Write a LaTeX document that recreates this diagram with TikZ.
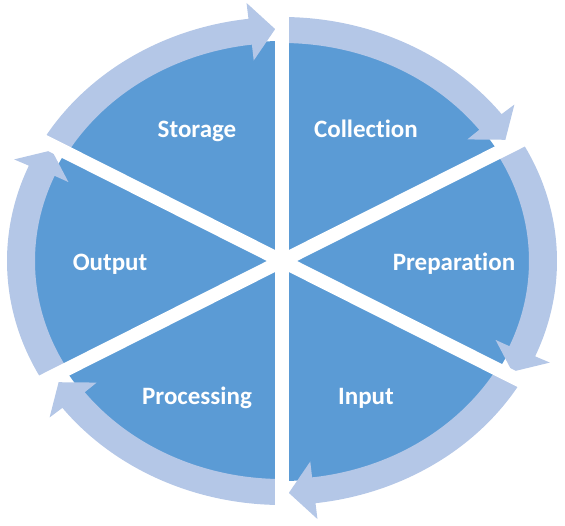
\documentclass[tikz,border=0pt]{standalone}
\usepackage{fontspec}
\setmainfont{Carlito}[Ligatures={NoCommon}]
\definecolor{darkblue}{HTML}{5B9BD5}
\definecolor{lightblue}{HTML}{B4C7E7}
\begin{document}
\begin{tikzpicture}[
  lbl/.style={text=white, font=\bfseries\fontsize{25}{30}\selectfont, anchor=base, inner sep=0pt},
  ringseg/.style={fill=lightblue},
  gap/.style={draw=white, line width=13.5pt}
]
\useasboundingbox (-282pt,-264pt) rectangle (283pt,261pt);
% dark ellipse
\fill[darkblue] (0pt,0pt) ellipse [x radius=249pt, y radius=220pt];
% ring segments with arrowheads (clockwise)
\foreach \s in {90,30,-30,-90,-150,-210} {
  \pgfmathsetmacro{\eb}{\s-60+7}
  \pgfmathsetmacro{\et}{\s-60+1.5}
  \fill[ringseg] (\s:275pt and 244pt)
    arc[start angle=\s, end angle=\eb, x radius=275pt, y radius=244pt]
    -- (\eb:291pt and 260pt) -- (\et:262pt and 232pt) -- (\eb:232pt and 202pt)
    -- (\eb:247pt and 218pt)
    arc[start angle=\eb, end angle=\s, x radius=247pt, y radius=218pt] -- cycle;
}
% gaps
\coordinate (c) at (0pt,0pt);
\foreach \a in {90,30,-30} {
  \draw[gap] (\a:310pt and 270pt) -- (\a+180:310pt and 270pt);
}
% labels
\node[lbl] (storage) at (-85pt,123pt) {Storage};
\node[lbl] (collection) at (84pt,123pt) {Collection};
\node[lbl] (preparation) at (172pt,-9pt) {Preparation};
\node[lbl] (output) at (-172pt,-9pt) {Output};
\node[lbl] (processing) at (-85pt,-143pt) {Processing};
\node[lbl] (input) at (84pt,-143pt) {Input};
\end{tikzpicture}
\end{document}
